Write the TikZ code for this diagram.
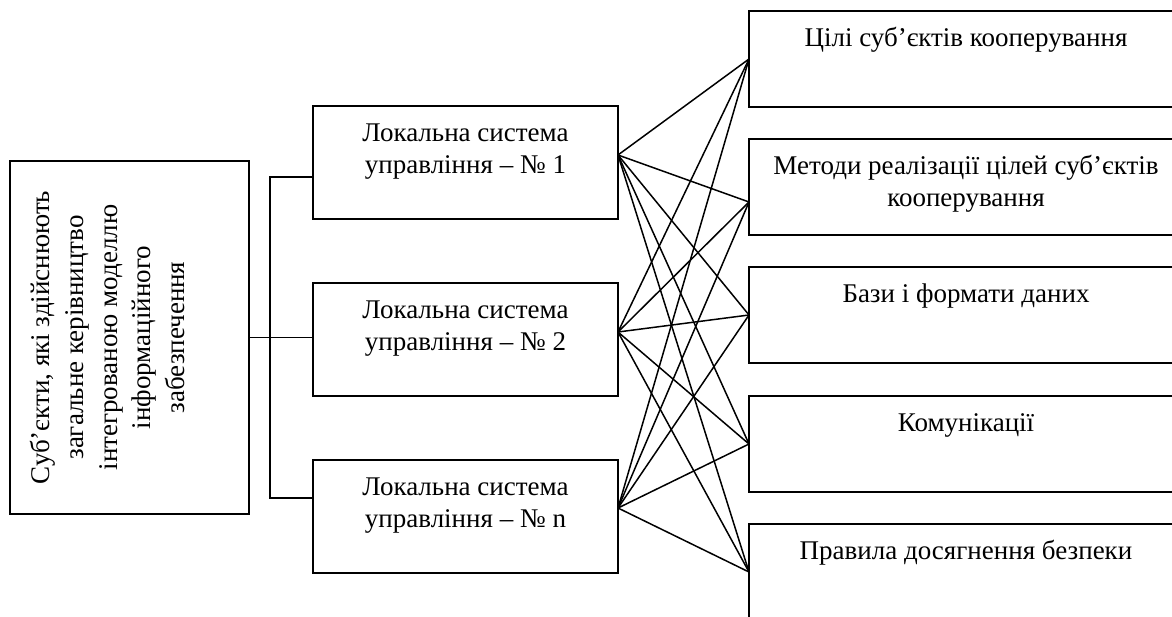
\documentclass[tikz,border=0pt]{standalone}
\usepackage{fontspec}
\setmainfont{Liberation Serif}
\usetikzlibrary{calc}

\tikzset{
  frame/.style={draw, rectangle, line width=1.6pt, inner sep=0pt, outer sep=0pt},
  link/.style={line width=1.5pt},
}
% text set from the top of a box of fixed size
\newcommand{\boxtext}[4][35pt]{\parbox[c][#3][t]{#2}{\centering\rule{0pt}{#1}#4}}

\begin{document}
\begin{tikzpicture}[x=1pt,y=1pt,yscale=-1,xscale=1,font=\fontsize{27}{32}\selectfont]
\useasboundingbox (0,0) rectangle (1172,616);

%Shape: Rectangle (rotated text)
\node[frame] (lead) at (129.5,337.5) {\rotatebox{90}{\fontsize{27}{33.5}\selectfont\boxtext[40pt]{353pt}{239pt}{Суб’єкти, які здійснюють\\загальне керівництво\\інтегрованою моделлю\\інформаційного\\забезпечення}}};

%Shape: Rectangle
\node[frame] (loc1) at (465.5,162.5) {\boxtext{305pt}{113pt}{Локальна система\\управління – № 1}};
%Shape: Rectangle
\node[frame] (loc2) at (465.5,339.5) {\boxtext{305pt}{113pt}{Локальна система\\управління – № 2}};
%Shape: Rectangle
\node[frame] (loc3) at (465.5,516.5) {\boxtext{305pt}{113pt}{Локальна система\\управління – № n}};

%Shape: Rectangle
\node[frame] (goal) at (966,59) {\boxtext{434pt}{96pt}{Цілі суб’єктів кооперування}};
%Shape: Rectangle
\node[frame] (meth) at (966,187) {\boxtext{434pt}{96pt}{Методи реалізації цілей суб’єктів\\кооперування}};
%Shape: Rectangle
\node[frame] (base) at (966,315) {\boxtext{434pt}{96pt}{Бази і формати даних}};
%Shape: Rectangle
\node[frame] (comm) at (966,444) {\boxtext{434pt}{96pt}{Комунікації}};
%Shape: Rectangle
\node[frame] (safe) at (966,572) {\boxtext{434pt}{96pt}{Правила досягнення безпеки}};

% joints
\coordinate (bus) at (270,337.5);
\coordinate (loc1in) at ($(loc1.west)+(0,14.5)$);
\coordinate (loc3in) at ($(loc3.west)+(0,-18.5)$);
\coordinate (loc1out) at ($(loc1.east)+(0,-7.5)$);
\coordinate (loc2out) at ($(loc2.east)+(0,-7.5)$);
\coordinate (loc3out) at ($(loc3.east)+(0,-8.5)$);
\coordinate (methin) at ($(meth.west)+(0,15)$);

%Straight Lines
\draw[link] (lead.east) -- (lead.east -| loc2.west);
%Straight Lines
\draw[link] (loc1in) -| (bus |- loc3in) -- (loc3in);

%Straight Lines
\draw[link] (loc1out) -- (goal.west);
\draw[link] (loc1out) -- (methin);
\draw[link] (loc1out) -- (base.west);
\draw[link] (loc1out) -- (comm.west);
\draw[link] (loc1out) -- (safe.west);
%Straight Lines
\draw[link] (loc2out) -- (goal.west);
\draw[link] (loc2out) -- (methin);
\draw[link] (loc2out) -- (base.west);
\draw[link] (loc2out) -- (comm.west);
\draw[link] (loc2out) -- (safe.west);
%Straight Lines
\draw[link] (loc3out) -- (goal.west);
\draw[link] (loc3out) -- (methin);
\draw[link] (loc3out) -- (base.west);
\draw[link] (loc3out) -- (comm.west);
\draw[link] (loc3out) -- (safe.west);

\end{tikzpicture}
\end{document}
